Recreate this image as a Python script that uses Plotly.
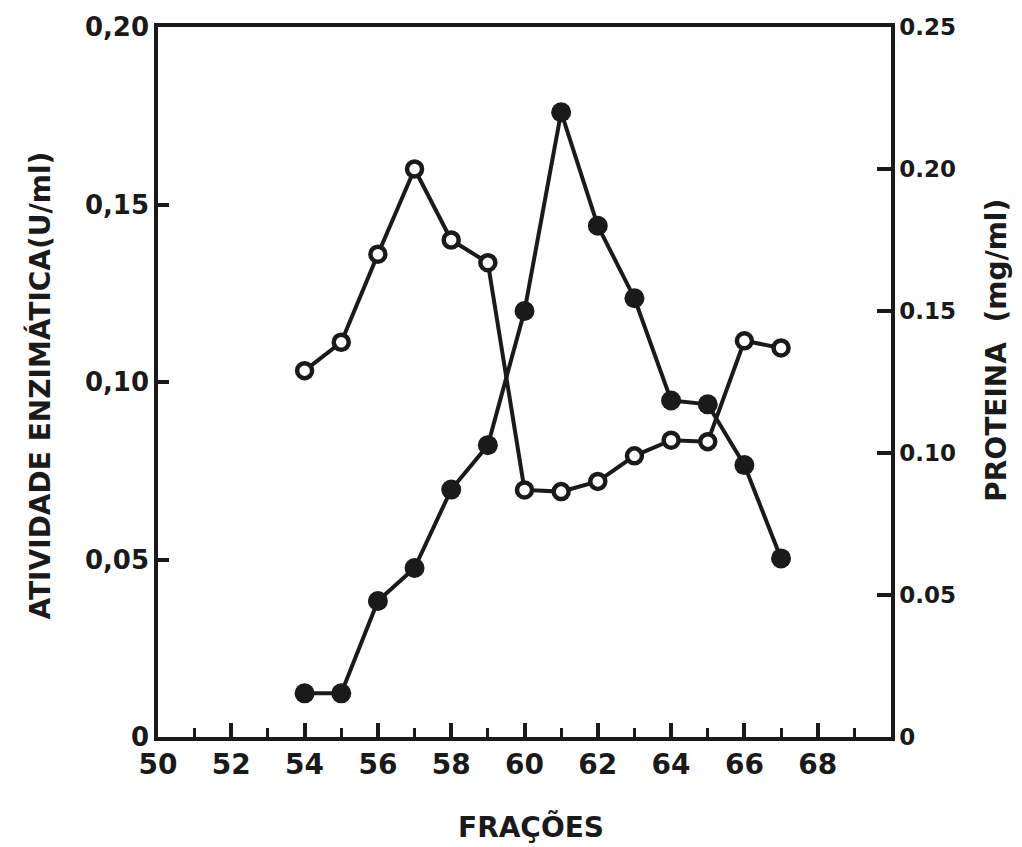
import plotly.graph_objects as go

# Frações da coluna
fracoes = [54, 55, 56, 57, 58, 59, 60, 61, 62, 63, 64, 65, 66, 67]

# Atividade enzimática (U/ml) - eixo esquerdo, círculos cheios
atividade = [0.0123, 0.0123, 0.0383, 0.0476, 0.0697, 0.0822, 0.120, 0.176,
             0.144, 0.1236, 0.0948, 0.0937, 0.0766, 0.0503]

# Proteína (mg/ml) - eixo direito, círculos vazios
proteina = [0.129, 0.139, 0.170, 0.200, 0.175, 0.167, 0.087, 0.0864,
            0.090, 0.099, 0.1045, 0.104, 0.1395, 0.137]

x_ticks = [50, 52, 54, 56, 58, 60, 62, 64, 66, 68]
y_left_ticks = [0, 0.05, 0.10, 0.15, 0.20]
y_left_labels = ["0", "0,05", "0,10", "0,15", "0,20"]
y_right_ticks = [0, 0.05, 0.10, 0.15, 0.20, 0.25]
y_right_labels = ["0", "0.05", "0.10", "0.15", "0.20", "0.25"]

FONT = "DejaVu Sans"
INK = "#1a1a1a"

fig = go.Figure()

fig.add_trace(go.Scatter(
    x=fracoes, y=proteina, yaxis="y2", mode="lines+markers",
    line=dict(color=INK, width=4),
    marker=dict(symbol="circle", size=15, color="white",
                line=dict(color=INK, width=4.5)),
    showlegend=False,
))

fig.add_trace(go.Scatter(
    x=fracoes, y=atividade, yaxis="y", mode="lines+markers",
    line=dict(color=INK, width=4),
    marker=dict(symbol="circle", size=20, color=INK),
    showlegend=False,
))

fig.update_layout(
    width=1022, height=847,
    margin=dict(l=158, r=131, t=22, b=110),
    paper_bgcolor="white", plot_bgcolor="white",
    font=dict(family=FONT, color=INK, size=22, weight="bold"),
    xaxis=dict(
        range=[50, 70], showgrid=False, zeroline=False,
        showline=True, linecolor=INK, linewidth=3.5, mirror=True,
        tickvals=x_ticks, ticks="inside", ticklen=14, tickwidth=3.5,
        tickcolor=INK,
        tickfont=dict(family=FONT, size=28, color=INK, weight="bold"),
        minor=dict(dtick=1, tick0=50, ticks="inside", ticklen=9,
                   tickwidth=3, tickcolor=INK),
    ),
    yaxis=dict(
        range=[0, 0.20], showgrid=False, zeroline=False,
        showline=True, linecolor=INK, linewidth=3.5,
        tickvals=y_left_ticks, ticktext=y_left_labels,
        ticks="inside", ticklen=11, tickwidth=3.5, tickcolor=INK,
        tickfont=dict(family=FONT, size=26, color=INK, weight="bold"),
    ),
    yaxis2=dict(
        range=[0, 0.25], overlaying="y", side="right", showgrid=False,
        zeroline=False, showline=True, linecolor=INK, linewidth=3.5,
        tickvals=y_right_ticks, ticktext=y_right_labels,
        ticks="inside", ticklen=14, tickwidth=3.5, tickcolor=INK,
        tickfont=dict(family=FONT, size=23, color=INK, weight="bold"),
    ),
    annotations=[
        dict(text="FRAÇÕES", showarrow=False,
             font=dict(family=FONT, size=28, color=INK, weight="bold")),
        dict(text="ATIVIDADE ENZIMÁTICA(U/ml)", textangle=-90,
             showarrow=False, font=dict(family=FONT, size=28, color=INK,
                                        weight="bold")),
        dict(text="PROTEINA  (mg/ml)", textangle=-90, showarrow=False,
             font=dict(family=FONT, size=28, color=INK, weight="bold")),
    ],
)

# Place axis titles in pixel terms relative to the plotting area
plot_w = 1022 - 158 - 131
plot_h = 847 - 22 - 110


def px_to_paper(px, py):
    return (px - 158) / plot_w, (847 - 110 - py) / plot_h


anns = list(fig.layout.annotations)
for ann, (px, py) in zip(anns, [(531, 828), (40, 383), (997, 348)]):
    ax, ay = px_to_paper(px, py)
    ann.x = ax
    ann.y = ay
    ann.xref = "paper"
    ann.yref = "paper"
    ann.xanchor = "center"
    ann.yanchor = "middle"
fig.layout.annotations = anns

fig.write_html("out.html")
